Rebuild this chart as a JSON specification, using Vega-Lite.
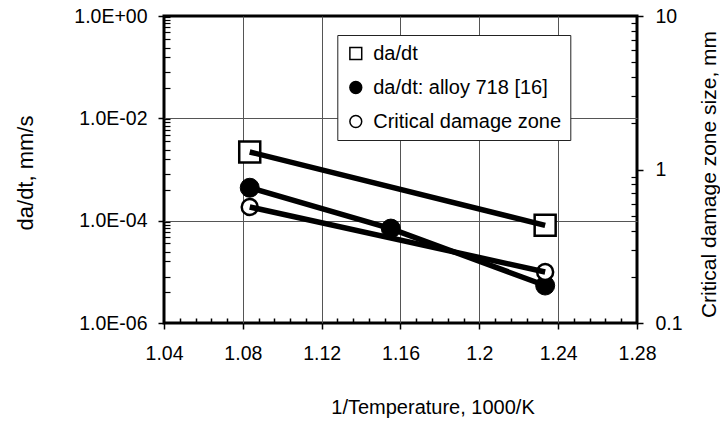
{
  "$schema": "https://vega.github.io/schema/vega-lite/v6.json",
  "width": 473,
  "height": 307,
  "autosize": {"type": "none"},
  "padding": {"left": 164, "top": 16, "right": 83, "bottom": 98},
  "background": "white",
  "config": {
    "view": {"stroke": "black", "strokeWidth": 3},
    "font": "Liberation Sans",
    "axis": {
      "labelFont": "Liberation Sans",
      "titleFont": "Liberation Sans",
      "labelColor": "black",
      "titleColor": "black",
      "tickColor": "black",
      "titleFontWeight": "normal",
      "domain": false,
      "ticks": true,
      "labelFlush": false,
      "labelOverlap": false
    },
    "legend": {
      "orient": "none",
      "legendX": 173.3,
      "legendY": 19,
      "direction": "vertical",
      "padding": 8.5,
      "rowPadding": 14,
      "symbolSize": 140,
      "symbolOpacity": 1,
      "labelFontSize": 20,
      "labelFont": "Liberation Sans",
      "labelColor": "black",
      "labelLimit": 400,
      "strokeColor": "#222",
      "fillColor": "white"
    }
  },
  "data": {
    "values": [
      {"invT": 1.0835, "value": 0.0022, "series": "da/dt"},
      {"invT": 1.2334, "value": 0.000081, "series": "da/dt"},
      {"invT": 1.0835, "value": 0.00044, "series": "da/dt: alloy 718 [16]"},
      {"invT": 1.1551, "value": 0.00007, "series": "da/dt: alloy 718 [16]"},
      {"invT": 1.2334, "value": 0.0000054, "series": "da/dt: alloy 718 [16]"},
      {"invT": 1.0835, "value": 0.57, "series": "Critical damage zone"},
      {"invT": 1.2334, "value": 0.215, "series": "Critical damage zone"}
    ]
  },
  "layer": [
    {
      "transform": [{"filter": "datum.series != 'Critical damage zone'"}],
      "encoding": {
        "x": {
          "field": "invT", "type": "quantitative",
          "scale": {"domain": [1.04, 1.28], "nice": false, "zero": false},
          "axis": {
            "orient": "bottom",
            "values": [1.04, 1.08, 1.12, 1.16, 1.2, 1.24, 1.28],
            "labelExpr": "toString(round(datum.value*100)/100)",
            "labelFontSize": 19.5,
            "tickSize": 6,
            "tickWidth": 1.5,
            "labelPadding": 15.5,
            "grid": true,
            "gridColor": {"condition": {"test": "datum.value > 1.05 && datum.value < 1.27", "value": "#555"}, "value": "transparent"},
            "gridWidth": 1,
            "title": "1/Temperature, 1000/K",
            "titleFontSize": 20,
            "titleX": 268.5,
            "titleY": 90,
            "titleAlign": "center",
            "titleBaseline": "alphabetic"
          }
        },
        "y": {
          "field": "value", "type": "quantitative",
          "scale": {"type": "log", "domain": [0.000001, 1], "nice": false},
          "axis": {
            "orient": "left",
            "values": [0.000001, 0.0001, 0.01, 1],
            "labelExpr": "datum.value > 0.5 ? '1.0E+00' : '1.0E-0' + round(-log(datum.value)/LN10)",
            "labelFontSize": 19.5,
            "tickSize": 6,
            "tickWidth": 1.5,
            "labelPadding": 11,
            "grid": true,
            "gridColor": {"condition": {"test": "datum.value > 0.000002 && datum.value < 0.5", "value": "#555"}, "value": "transparent"},
            "gridWidth": 1,
            "title": "da/dt, mm/s",
            "titleFontSize": 22,
            "titleAngle": -90,
            "titleX": -131.5,
            "titleY": 156.5,
            "titleAlign": "center",
            "titleBaseline": "alphabetic"
          }
        }
      },
      "layer": [
        {
          "transform": [{"filter": "datum.series == 'da/dt'"}],
          "mark": {"type": "point", "filled": true, "stroke": "black", "strokeWidth": 2.5, "size": 441, "opacity": 1},
          "encoding": {
            "shape": {"field": "series", "type": "nominal", "scale": {"domain": ["da/dt", "da/dt: alloy 718 [16]", "Critical damage zone"], "range": ["square", "circle", "circle"]}, "legend": {"title": null, "labelOffset": 7.4, "encode": {"symbols": {"update": {"stroke": {"value": "black"}, "strokeWidth": {"value": 2}}}}}},
            "fill": {"field": "series", "type": "nominal", "scale": {"domain": ["da/dt", "da/dt: alloy 718 [16]", "Critical damage zone"], "range": ["white", "black", "white"]}, "legend": {"title": null, "labelOffset": 7.4, "encode": {"symbols": {"update": {"stroke": {"value": "black"}, "strokeWidth": {"value": 2}}}}}}
          }
        },
        {
          "transform": [{"filter": "datum.series == 'da/dt: alloy 718 [16]'"}],
          "mark": {"type": "point", "filled": true, "stroke": "black", "strokeWidth": 1, "size": 361, "opacity": 1},
          "encoding": {
            "shape": {"field": "series", "type": "nominal", "scale": {"domain": ["da/dt", "da/dt: alloy 718 [16]", "Critical damage zone"], "range": ["square", "circle", "circle"]}, "legend": {"title": null, "labelOffset": 7.4, "encode": {"symbols": {"update": {"stroke": {"value": "black"}, "strokeWidth": {"value": 2}}}}}},
            "fill": {"field": "series", "type": "nominal", "scale": {"domain": ["da/dt", "da/dt: alloy 718 [16]", "Critical damage zone"], "range": ["white", "black", "white"]}, "legend": {"title": null, "labelOffset": 7.4, "encode": {"symbols": {"update": {"stroke": {"value": "black"}, "strokeWidth": {"value": 2}}}}}}
          }
        },
        {
          "mark": {"type": "line", "stroke": "black", "strokeWidth": 5.5},
          "encoding": {"detail": {"field": "series", "type": "nominal"}}
        }
      ]
    },
    {
      "transform": [{"filter": "datum.series == 'Critical damage zone'"}],
      "encoding": {
        "x": {"field": "invT", "type": "quantitative", "scale": {"domain": [1.04, 1.28], "nice": false, "zero": false}, "axis": null},
        "y": {
          "field": "value", "type": "quantitative",
          "scale": {"type": "log", "domain": [0.1, 10], "nice": false},
          "axis": {
            "orient": "right",
            "values": [0.1, 1, 10],
            "labelExpr": "datum.value < 0.5 ? '0.1' : (datum.value < 5 ? '1' : '10')",
            "labelFontSize": 19.5,
            "tickSize": 6,
            "tickWidth": 1.5,
            "labelPadding": 12,
            "grid": false,
            "title": "Critical damage zone size, mm",
            "titleFontSize": 21,
            "titleAngle": -90,
            "titleX": 78,
            "titleY": 158,
            "titleAlign": "center",
            "titleBaseline": "alphabetic"
          }
        }
      },
      "layer": [
        {
          "mark": {"type": "point", "filled": true, "stroke": "black", "strokeWidth": 2.5, "size": 256, "opacity": 1},
          "encoding": {
            "shape": {"field": "series", "type": "nominal", "scale": {"domain": ["da/dt", "da/dt: alloy 718 [16]", "Critical damage zone"], "range": ["square", "circle", "circle"]}, "legend": {"title": null, "labelOffset": 7.4, "encode": {"symbols": {"update": {"stroke": {"value": "black"}, "strokeWidth": {"value": 2}}}}}},
            "fill": {"field": "series", "type": "nominal", "scale": {"domain": ["da/dt", "da/dt: alloy 718 [16]", "Critical damage zone"], "range": ["white", "black", "white"]}, "legend": {"title": null, "labelOffset": 7.4, "encode": {"symbols": {"update": {"stroke": {"value": "black"}, "strokeWidth": {"value": 2}}}}}}
          }
        },
        {
          "mark": {"type": "line", "stroke": "black", "strokeWidth": 5.5},
          "encoding": {}
        }
      ]
    },
    {
      "transform": [{"filter": "datum.series != 'Critical damage zone'"}],
      "mark": {"type": "point", "opacity": 0},
      "encoding": {
        "x": {
          "field": "invT", "type": "quantitative",
          "scale": {"domain": [1.04, 1.28], "nice": false, "zero": false},
          "axis": {
            "orient": "bottom",
            "values": [1.048, 1.056, 1.064, 1.072, 1.088, 1.096, 1.104, 1.112, 1.128, 1.136, 1.144, 1.152, 1.168, 1.176, 1.184, 1.192, 1.208, 1.216, 1.224, 1.232, 1.248, 1.256, 1.264, 1.272],
            "labels": false, "grid": false, "domain": false,
            "tickSize": 5, "tickWidth": 1.5, "offset": -5, "title": null
          }
        },
        "y": {
          "field": "value", "type": "quantitative",
          "scale": {"type": "log", "domain": [0.000001, 1], "nice": false},
          "axis": {
            "orient": "left",
            "values": [0.000004, 0.000008, 0.000016, 0.000024, 0.000036, 0.000048, 0.00006, 0.000072, 0.000084, 0.000096, 0.0004, 0.0008, 0.0016, 0.0024, 0.0036, 0.0048, 0.006, 0.0072, 0.0084, 0.0096, 0.04, 0.08, 0.16, 0.24, 0.36, 0.48, 0.6, 0.72, 0.84, 0.96],
            "labels": false, "grid": false, "domain": false,
            "tickSize": 6, "tickWidth": 1.2, "offset": -6, "title": null
          }
        }
      }
    },
    {
      "transform": [{"filter": "datum.series == 'Critical damage zone'"}],
      "mark": {"type": "point", "opacity": 0},
      "encoding": {
        "x": {"field": "invT", "type": "quantitative", "scale": {"domain": [1.04, 1.28], "nice": false, "zero": false}, "axis": null},
        "y": {
          "field": "value", "type": "quantitative",
          "scale": {"type": "log", "domain": [0.1, 10], "nice": false},
          "axis": {
            "orient": "right",
            "values": [0.2, 0.3, 0.4, 0.5, 0.6, 0.7, 0.8, 0.9, 2, 3, 4, 5, 6, 7, 8, 9],
            "labels": false, "grid": false, "domain": false,
            "tickSize": 6, "tickWidth": 1.2, "offset": -6, "title": null
          }
        }
      }
    }
  ],
  "resolve": {"scale": {"x": "independent", "y": "independent"}}
}
